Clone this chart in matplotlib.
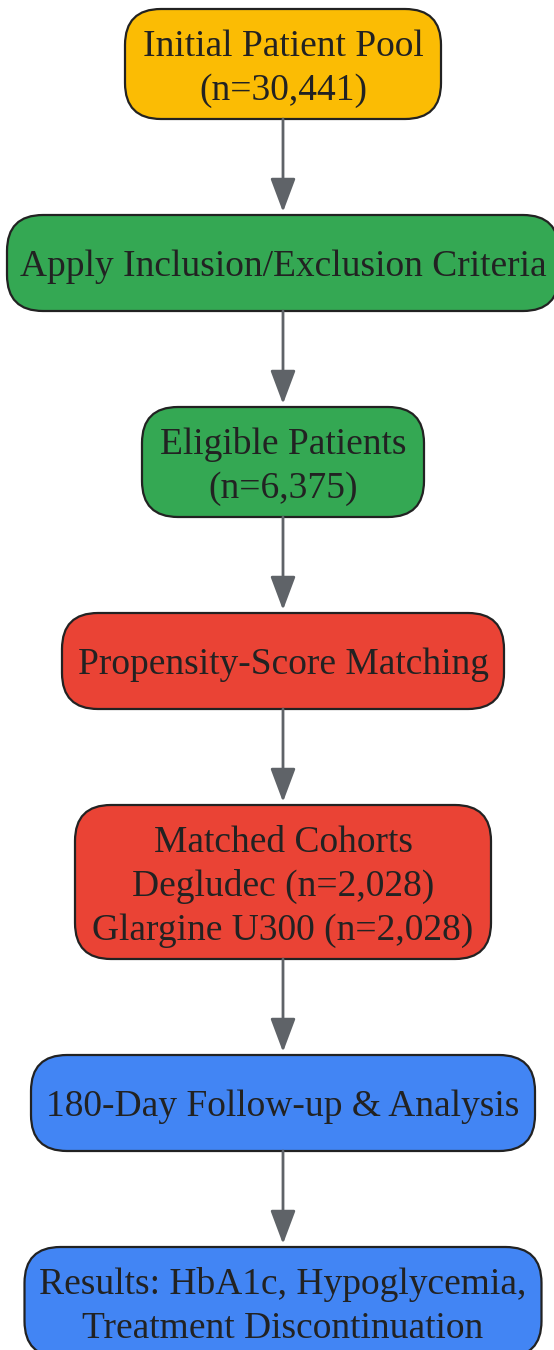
import matplotlib.pyplot as plt
from matplotlib.patches import FancyBboxPatch

# node labels and fill colours, top to bottom
labels = [
    "Initial Patient Pool\n(n=30,441)",
    "Apply Inclusion/Exclusion Criteria",
    "Eligible Patients\n(n=6,375)",
    "Propensity-Score Matching",
    "Matched Cohorts\nDegludec (n=2,028)\nGlargine U300 (n=2,028)",
    "180-Day Follow-up & Analysis",
    "Results: HbA1c, Hypoglycemia,\nTreatment Discontinuation",
]
fills = ["#FBBC04", "#34A853", "#34A853", "#EA4335", "#EA4335", "#4285F4", "#4285F4"]

# layout (pixels)
W, H = 554, 1350
box_w = [316, 552, 282, 442, 416, 504, 517]
cx = 283
gap = 96
line_h = 44
top0 = 9
radius = 36
edge = "#222222"
txt_col = "#222222"
arrow_col = "#5F6368"

fig = plt.figure(figsize=(W / 100, H / 100), dpi=100)
ax = fig.add_axes([0, 0, 1, 1])
ax.set_xlim(0, W)
ax.set_ylim(H, 0)
ax.axis("off")

top = top0
prev_bottom = None
for lab, col, w in zip(labels, fills, box_w):
    lines = lab.split("\n")
    n = len(lines)
    h = max(96, line_h * n + 22)
    if prev_bottom is not None:
        ax.annotate("", xy=(cx, top - 3), xytext=(cx, prev_bottom),
                    arrowprops=dict(arrowstyle="-|>,head_length=0.4,head_width=0.15",
                                    mutation_scale=52, color=arrow_col, lw=2,
                                    shrinkA=0, shrinkB=0))
    box = FancyBboxPatch((cx - w / 2, top), w, h,
                         boxstyle=f"round,pad=0,rounding_size={radius}",
                         fc=col, ec=edge, lw=1.6, zorder=2)
    ax.add_patch(box)
    yc = top + h / 2
    for i, ln in enumerate(lines):
        y = yc + (i - (n - 1) / 2) * line_h
        ax.text(cx, y + 13.5, ln, ha="center", va="baseline",
                fontsize=27, family="Liberation Serif", color=txt_col, zorder=3)
    prev_bottom = top + h
    top = prev_bottom + gap

fig.savefig("out.png", dpi=100)
